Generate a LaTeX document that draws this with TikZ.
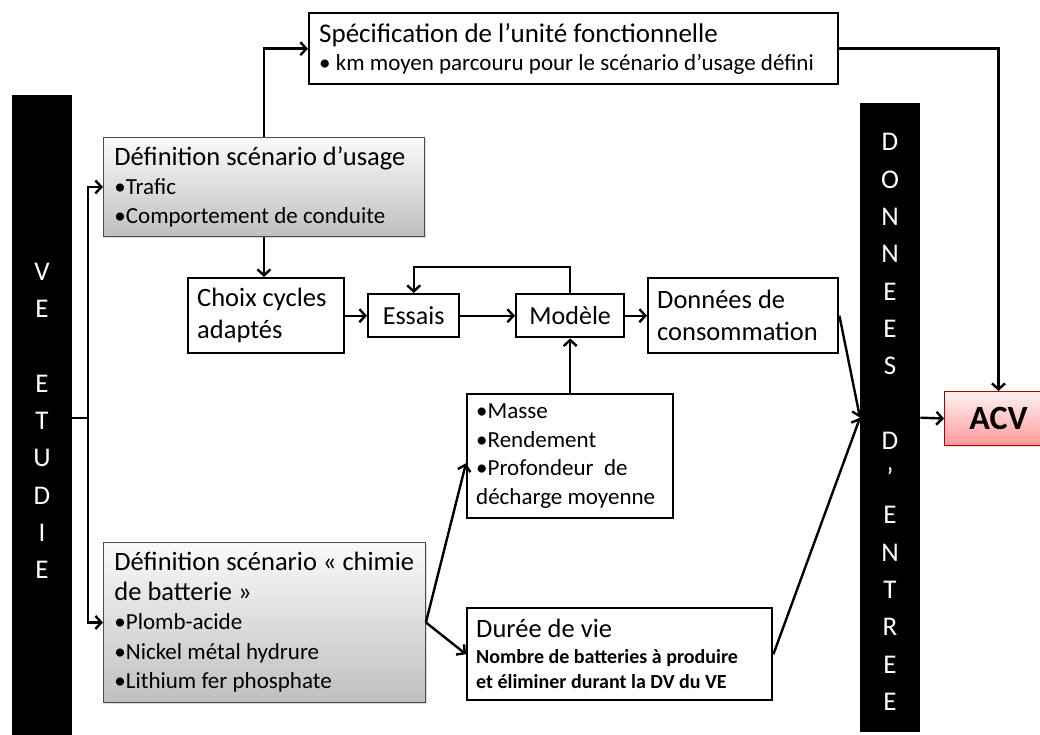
\documentclass[tikz,border=0pt]{standalone}
\usepackage{fontspec}
\setmainfont{Carlito}
\usetikzlibrary{arrows.meta,shadows,calc}
\begin{document}
\begin{tikzpicture}[x=1pt,y=-1pt,
  box/.style={draw=black,line width=2.4pt,fill=white,anchor=north west,inner xsep=9pt,inner ysep=2pt,align=flush left},
  graybox/.style={draw=gray!60!black,line width=0.9pt,top color=gray!4,bottom color=gray!50,anchor=north west,inner xsep=11pt,inner ysep=2pt,align=flush left,drop shadow={opacity=0.3,shadow xshift=1.5pt,shadow yshift=-1.5pt}},
  redbox/.style={draw=red!70!black,line width=1pt,top color=red!5,bottom color=red!40,anchor=north west,inner sep=0pt,drop shadow={opacity=0.25,shadow xshift=1.5pt,shadow yshift=-1.5pt}},
  arr/.style={line width=2.4pt,-{Straight Barb[length=6pt,width=13pt]}},
  ln/.style={line width=2.4pt},
  barbox/.style={fill=black,anchor=north west,inner sep=0pt},
  barlbl/.style={text=white,align=center,inner sep=0pt,font=\fontsize{27}{37.3}\selectfont}
]
\useasboundingbox (0,0) rectangle (1040,735);

% vertical black bars
\node[barbox,minimum width=60pt,minimum height=640pt] (vebar) at (12,95) {};
\node[barlbl] (velbl) at (42,421) {V\\E\\~\\E\\T\\U\\D\\I\\E};
\node[barbox,minimum width=60pt,minimum height=629pt] (dbar) at (860,103) {};
\node[barlbl] (dlbl) at (890,422) {D\\O\\N\\N\\E\\E\\S\\~\\D\\’\\E\\N\\T\\R\\E\\E};

% boxes
\node[box,minimum width=529pt,minimum height=71pt,text width=509pt,font=\fontsize{27}{28}\selectfont] (spec) at (308,12)
  {Spécification de l’unité fonctionnelle\\{\fontsize{23}{28}\selectfont • km moyen parcouru pour le scénario d’usage défini}};

\node[graybox,minimum width=321pt,minimum height=99pt,text width=299pt,font=\fontsize{23}{29}\selectfont] (usage) at (103,137)
  {{\fontsize{26.5}{29}\selectfont Définition scénario d’usage}\\•Trafic\\•Comportement de conduite};

\node[box,minimum width=156pt,minimum height=75pt,text width=138pt,font=\fontsize{26.5}{32}\selectfont] (choix) at (187,277)
  {Choix cycles\\adaptés};

\node[box,minimum width=91pt,minimum height=43pt,align=center,font=\fontsize{26}{30}\selectfont] (essais) at (367,293) {Essais};

\node[box,minimum width=108pt,minimum height=43pt,align=center,font=\fontsize{26}{30}\selectfont] (modele) at (515,293) {Modèle};

\node[box,minimum width=190pt,minimum height=75pt,text width=172pt,font=\fontsize{26.5}{32}\selectfont] (donnees) at (647,277)
  {Données de\\consommation};

\node[box,minimum width=206pt,minimum height=124pt,text width=188pt,font=\fontsize{23}{28.5}\selectfont] (masse) at (466,393)
  {•Masse\\•Rendement\\•Profondeur\ \ de\\décharge moyenne};

\node[graybox,minimum width=322pt,minimum height=160pt,text width=300pt,font=\fontsize{23}{29.5}\selectfont] (chimie) at (103,542)
  {{\fontsize{26.5}{29.5}\selectfont Définition scénario « chimie}\\{\fontsize{26.5}{29.5}\selectfont de batterie »}\\•Plomb-acide\\•Nickel métal hydrure\\•Lithium fer phosphate};

\node[box,minimum width=305pt,minimum height=92pt,text width=287pt,font=\fontsize{20}{25.5}\selectfont\bfseries] (duree) at (466,607)
  {{\mdseries\fontsize{26.5}{26}\selectfont Durée de vie}\\Nombre de batteries à produire\\et éliminer durant la DV du VE};

\node[redbox,minimum width=108pt,minimum height=54pt,font=\fontsize{34}{36}\selectfont\bfseries] (acv) at (944,391) {ACV};

% connectors
\coordinate (j) at (88,418);
\draw[ln] (vebar.east |- j) -- (j);
\draw[arr] (j) |- (usage.west);
\draw[arr] (j) |- (chimie.west);
\draw[arr] (usage.north) |- (spec.west);
\draw[arr] (usage.south) -- (usage.south |- choix.north);
\draw[arr] (choix.east) -- (essais.west);
\draw[arr] (essais.east) -- (modele.west);
\draw[arr] (modele.east) -- (donnees.west);
\draw[arr] (modele.north) -- ++(0,-26) -| (essais.north);
\draw[arr] (masse.north) -- (modele.south);
\draw[arr] (chimie.east) -- ($(masse.west)+(0,7)$);
\draw[arr] (chimie.east) -- (duree.west);
\draw[arr] (donnees.east) -- (dbar.west);
\draw[arr] (duree.east) -- (dbar.west);
\draw[arr] (dbar.east) -- (acv.west);
\draw[arr] (spec.east) -| (acv.north);
\end{tikzpicture}
\end{document}
